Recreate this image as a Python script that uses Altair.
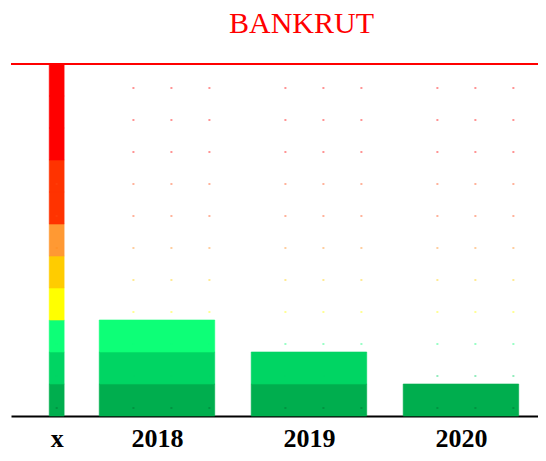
import altair as alt
import pandas as pd

# ---- data ----
level_colors = ["#00AE4E", "#00D563", "#0DFF77", "#FFFF00", "#FFCC00",
                "#FF9933", "#FF3300", "#FF3300", "#FF0000", "#FF0000", "#FF0000"]
dot_colors = ["#00702F", "#00D563", "#0DFF77", "#FFFF00", "#FFCC00",
              "#FF8A1A", "#FF4A10", "#FF4A10", "#FF0000", "#FF0000", "#FF0000"]
n_levels = 11
bankrut_level = 11

categories = ["x", "2018", "2019", "2020"]
cat_pos = [2017.34, 2018, 2019, 2020]
cat_halfwidth = [0.049, 0.38, 0.38, 0.38]
values = [11, 3, 2, 1]
dot_offsets = [[0.0], [-0.155, 0.095, 0.345], [-0.155, 0.095, 0.345], [-0.155, 0.095, 0.345]]
dot_level_shift = 0.25

# ---- tables ----
rect_rows = []
for c, p, hw, v in zip(categories, cat_pos, cat_halfwidth, values):
    for lv in range(v):
        rect_rows.append({"cat": c, "x": p - hw, "x2": p + hw, "y": lv, "y2": lv + 1,
                          "color": level_colors[lv]})
rects = pd.DataFrame(rect_rows)

dot_rows = []
for c, p, offs in zip(categories, cat_pos, dot_offsets):
    for o in offs:
        for lv in range(n_levels):
            dot_rows.append({"x": p + o, "y": lv + dot_level_shift, "color": dot_colors[lv]})
dots = pd.DataFrame(dot_rows)

limit = pd.DataFrame({"y": [bankrut_level]})

label_map = "{" + ",".join(f"'{p}':'{c}'" for p, c in zip(cat_pos, categories)) + "}"

xscale = alt.Scale(domain=[2017.0395, 2020.507], nice=False, zero=False)
yscale = alt.Scale(domain=[0, 11], nice=False, zero=True)

bars = alt.Chart(rects).mark_rect(strokeWidth=0.6).encode(
    x=alt.X("x:Q", scale=xscale,
            axis=alt.Axis(values=cat_pos, title=None, grid=False, ticks=False, tickSize=0,
                          labelExpr=f"{label_map}[toString(datum.value)]",
                          labelFont="Liberation Serif", labelFontWeight="bold",
                          labelFontSize=26, labelColor="black", labelBaseline="alphabetic",
                          labelPadding=30, labelFlush=False, labelOverlap=False,
                          domainColor="black", domainWidth=2)),
    x2="x2:Q",
    y=alt.Y("y:Q", scale=yscale, axis=None),
    y2="y2:Q",
    color=alt.Color("color:N", scale=None),
    stroke=alt.Stroke("color:N", scale=None),
)

pts = alt.Chart(dots).mark_square(size=4, opacity=0.42).encode(
    x="x:Q", y="y:Q", color=alt.Color("color:N", scale=None)
)

rule = alt.Chart(limit).mark_rule(color="#FF0000", strokeWidth=2).encode(y="y:Q")

chart = alt.layer(bars, pts, rule).properties(
    width=527, height=352,
    title=alt.TitleParams("BANKRUT", font="Liberation Serif", fontSize=30,
                          fontWeight="normal", color="#FF0000", anchor="middle",
                          baseline="alphabetic", offset=0, dx=27),
    autosize=alt.AutoSizeParams(type="none"),
    padding={"left": 3, "top": 56, "right": 0, "bottom": 37},
).configure_view(strokeWidth=0)

chart.save("out.html", embed_options={"renderer": "svg", "actions": False})
